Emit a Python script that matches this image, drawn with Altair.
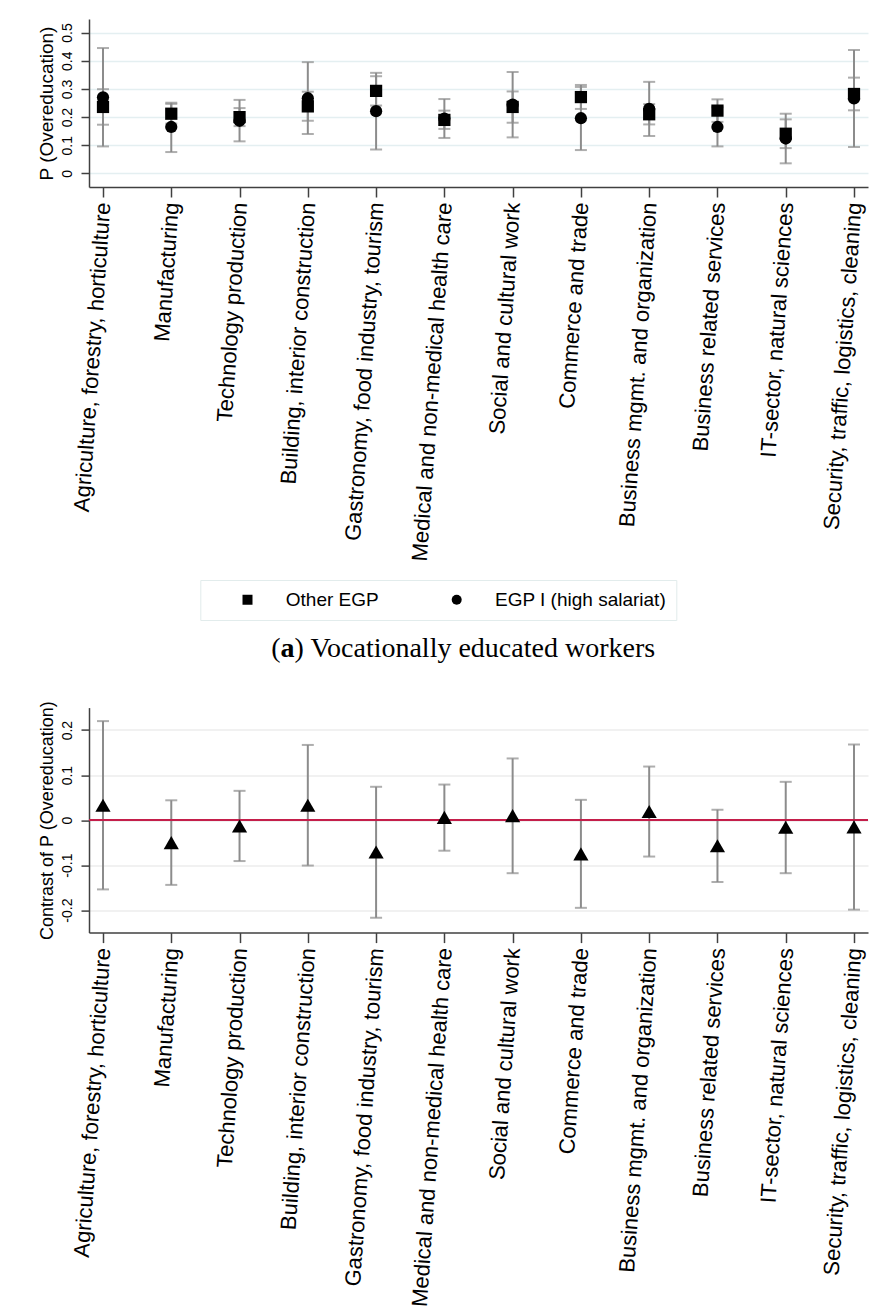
import altair as alt
import pandas as pd

FONT = "Liberation Sans"

categories = [
    "Agriculture, forestry, horticulture",
    "Manufacturing",
    "Technology production",
    "Building, interior construction",
    "Gastronomy, food industry, tourism",
    "Medical and non-medical health care",
    "Social and cultural work",
    "Commerce and trade",
    "Business mgmt. and organization",
    "Business related services",
    "IT-sector, natural sciences",
    "Security, traffic, logistics, cleaning",
]
series_names = ["Other EGP", "EGP I (high salariat)"]

other_est = [0.236, 0.212, 0.200, 0.238, 0.293, 0.190, 0.236, 0.271, 0.210, 0.223, 0.141, 0.282]
other_lo = [0.173, 0.177, 0.168, 0.187, 0.241, 0.158, 0.180, 0.229, 0.174, 0.183, 0.090, 0.224]
other_hi = [0.299, 0.247, 0.232, 0.290, 0.345, 0.223, 0.291, 0.314, 0.246, 0.263, 0.192, 0.340]

egp_est = [0.270, 0.165, 0.187, 0.267, 0.221, 0.195, 0.244, 0.196, 0.229, 0.165, 0.124, 0.266]
egp_lo = [0.096, 0.076, 0.114, 0.140, 0.085, 0.126, 0.128, 0.083, 0.133, 0.096, 0.036, 0.094]
egp_hi = [0.445, 0.251, 0.261, 0.395, 0.357, 0.264, 0.360, 0.307, 0.325, 0.235, 0.212, 0.438]

diff_est = [0.033, -0.050, -0.013, 0.033, -0.071, 0.006, 0.010, -0.075, 0.019, -0.057, -0.016, -0.015]
diff_lo = [-0.154, -0.144, -0.091, -0.101, -0.217, -0.068, -0.118, -0.195, -0.081, -0.1375, -0.118, -0.199]
diff_hi = [0.220, 0.044, 0.065, 0.167, 0.074, 0.079, 0.137, 0.045, 0.119, 0.023, 0.085, 0.168]

top_ticks = [0, 0.1, 0.2, 0.3, 0.4, 0.5]
bottom_ticks = [-0.2, -0.1, 0, 0.1, 0.2]
zero_line = [0]
caption_parts = ["(", "a", ") Vocationally educated workers"]

top_df = pd.DataFrame({
    "cat": categories * 2,
    "series": [series_names[0]] * 12 + [series_names[1]] * 12,
    "est": other_est + egp_est,
    "lo": other_lo + egp_lo,
    "hi": other_hi + egp_hi,
})
bot_df = pd.DataFrame({"cat": categories, "est": diff_est, "lo": diff_lo, "hi": diff_hi})

GRAY = "#8c8c8c"
AX = "#404040"


def x_enc():
    return alt.X(
        "cat:N", sort=categories,
        scale=alt.Scale(type="point", padding=0.205),
        axis=alt.Axis(
            title=None, labelAngle=274, labelAlign="right", labelBaseline="middle",
            labelFontSize=22, labelFont=FONT, labelColor="black", labelPadding=5,
            labelLimit=600, labelOverlap=False,
            tickSize=10, tickColor=AX, tickWidth=1.5,
            domainColor=AX, domainWidth=1.5, grid=False,
        ),
    )


def y_axis(values, title, title_size, grid_color):
    return alt.Axis(
        values=values, labelExpr="'' + datum.value",
        labelAngle=270, labelAlign="center", labelBaseline="bottom",
        labelFontSize=14, labelFont=FONT, labelColor="black", labelPadding=7,
        labelOverlap=False,
        tickSize=8, tickColor=AX, tickWidth=1.5,
        domainColor=AX, domainWidth=1.5,
        grid=True, gridColor=grid_color, gridWidth=1.5,
        title=title, titleFont=FONT, titleFontSize=title_size, titleFontWeight="normal",
        titleColor="black", titlePadding=4,
    )


# ---------------- top panel ----------------
ytop = alt.Scale(domain=[-0.048, 0.548], nice=False, zero=False)
ytop_axis = y_axis(top_ticks, "P (Overeducation)", 19, "#e4eff1")
top_base = alt.Chart(top_df)

top_rule = top_base.mark_rule(color=GRAY, strokeWidth=2).encode(
    x=x_enc(),
    y=alt.Y("lo:Q", scale=ytop, axis=ytop_axis),
    y2="hi:Q",
)
top_cap_lo = top_base.mark_tick(color=GRAY, thickness=2, size=12, orient="horizontal").encode(
    x=x_enc(), y=alt.Y("lo:Q", scale=ytop, axis=ytop_axis)
)
top_cap_hi = top_base.mark_tick(color=GRAY, thickness=2, size=12, orient="horizontal").encode(
    x=x_enc(), y=alt.Y("hi:Q", scale=ytop, axis=ytop_axis)
)
top_pts = top_base.mark_point(filled=True, color="black", opacity=1, size=150).encode(
    x=x_enc(),
    y=alt.Y("est:Q", scale=ytop, axis=ytop_axis),
    shape=alt.Shape(
        "series:N",
        scale=alt.Scale(domain=series_names, range=["square", "circle"]),
        legend=alt.Legend(
            title=None, orient="none", legendX=111.3, legendY=561, direction="horizontal",
            labelFont=FONT, labelFontSize=19, labelColor="black", labelLimit=400,
            symbolSize=100, symbolFillColor="black", symbolStrokeColor="black", symbolStrokeWidth=0,
            symbolOffset=27.7, labelOffset=28.8, columnPadding=40.2,
            padding=10, strokeColor="#e2ecec",
        ),
    ),
)

cap_df0 = pd.DataFrame({"t": [caption_parts[0]]})
cap_df1 = pd.DataFrame({"t": [caption_parts[1]]})
cap_df2 = pd.DataFrame({"t": [caption_parts[2]]})
cap_kw = dict(font="Liberation Serif", fontSize=28, align="left", baseline="alphabetic", color="black")
cap0 = alt.Chart(cap_df0).mark_text(**cap_kw).encode(x=alt.value(182.3), y=alt.value(637.7), text="t:N")
cap1 = alt.Chart(cap_df1).mark_text(fontWeight="bold", **cap_kw).encode(x=alt.value(191.6), y=alt.value(637.7), text="t:N")
cap2 = alt.Chart(cap_df2).mark_text(**cap_kw).encode(x=alt.value(205.6), y=alt.value(637.7), text="t:N")

top = alt.layer(top_rule, top_cap_lo, top_cap_hi, top_pts, cap0, cap1, cap2).properties(
    width=779, height=168
)

# ---------------- bottom panel ----------------
ybot = alt.Scale(domain=[-0.25, 0.25], nice=False, zero=False)
ybot_axis = y_axis(bottom_ticks, "Contrast of P (Overeducation)", 18, "#ececec")
bot_base = alt.Chart(bot_df)
bot_rule = bot_base.mark_rule(color=GRAY, strokeWidth=2).encode(
    x=x_enc(),
    y=alt.Y("lo:Q", scale=ybot, axis=ybot_axis),
    y2="hi:Q",
)
bot_cap_lo = bot_base.mark_tick(color=GRAY, thickness=2, size=12, orient="horizontal").encode(
    x=x_enc(), y=alt.Y("lo:Q", scale=ybot, axis=ybot_axis)
)
bot_cap_hi = bot_base.mark_tick(color=GRAY, thickness=2, size=12, orient="horizontal").encode(
    x=x_enc(), y=alt.Y("hi:Q", scale=ybot, axis=ybot_axis)
)
zero_rule = alt.Chart(pd.DataFrame({"z": zero_line})).mark_rule(color="#c41e4a", strokeWidth=2).encode(
    y=alt.Y("z:Q", scale=ybot, axis=ybot_axis)
)
bot_pts = bot_base.mark_point(filled=True, color="black", opacity=1, shape="triangle-up", size=230).encode(
    x=x_enc(), y=alt.Y("est:Q", scale=ybot, axis=ybot_axis)
)
bottom = alt.layer(bot_rule, bot_cap_lo, bot_cap_hi, zero_rule, bot_pts).properties(width=779, height=225)

chart = alt.vconcat(top, bottom, spacing=520.6, bounds="flush").configure(
    padding={"left": 37, "top": 19, "right": 5, "bottom": 0}, font=FONT
).configure_view(strokeWidth=0)

chart.save("out.html", embed_options={"renderer": "svg", "actions": False})
